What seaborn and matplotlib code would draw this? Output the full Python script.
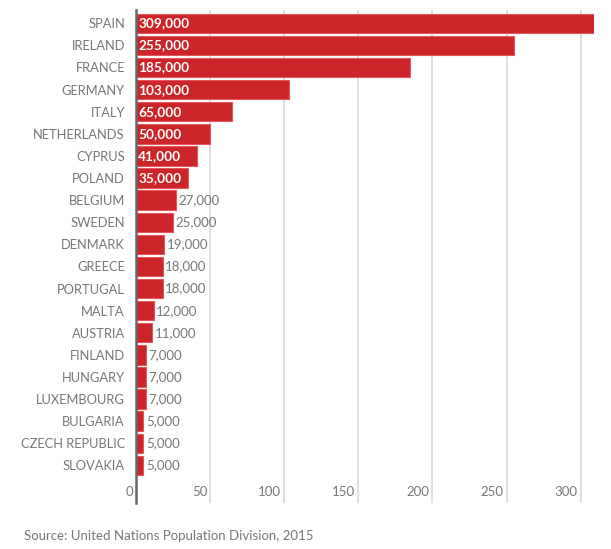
import matplotlib
matplotlib.use("Agg")
import matplotlib.pyplot as plt
import matplotlib.transforms as mtransforms
import seaborn as sns
import pandas as pd

# Data (values in people)
countries = ["SPAIN", "IRELAND", "FRANCE", "GERMANY", "ITALY", "NETHERLANDS",
             "CYPRUS", "POLAND", "BELGIUM", "SWEDEN", "DENMARK", "GREECE",
             "PORTUGAL", "MALTA", "AUSTRIA", "FINLAND", "HUNGARY", "LUXEMBOURG",
             "BULGARIA", "CZECH REPUBLIC", "SLOVAKIA"]
values = [309000, 255000, 185000, 103000, 65000, 50000, 41000, 35000, 27000,
          25000, 19000, 18000, 18000, 12000, 11000, 7000, 7000, 7000, 5000,
          5000, 5000]
x_ticks = [0, 50, 100, 150, 200, 250, 300]
source_text = "Source: United Nations Population Division, 2015"

df = pd.DataFrame({"country": countries, "thousands": [v / 1000 for v in values]})

sns.set_style("white")
plt.rcParams["font.family"] = ["Lato", "DejaVu Sans"]

bar_color = "#cc2529"
grey = "#777777"

fig = plt.figure(figsize=(6.11, 5.49), dpi=100)
ax = fig.add_axes([136 / 611, 46 / 549, (594 - 136) / 611, (539 - 46) / 549])

sns.barplot(data=df, y="country", x="thousands", color=bar_color,
            saturation=1, width=0.88, edgecolor="#e2585c", linewidth=0.8,
            orient="h", ax=ax)

ax.set_xlim(0, 309)
ax.set_ylim(len(countries) + 0.7, -0.6)

# vertical gridlines
for t in x_ticks[1:]:
    ax.axvline(t, color="#d9d9d9", lw=1.2, zorder=0)

# value labels
for i, v in enumerate(values):
    k = v / 1000
    label = f"{v:,}"
    if v >= 35000:
        ax.text(1.5, i, label, va="center", ha="left", color="white",
                fontsize=9.8, fontweight="bold")
    else:
        ax.text(k + 1.6, i, label, va="center", ha="left", color=grey,
                fontsize=9.5)

# x tick labels placed inside the plot, right-aligned to the gridlines
trans = mtransforms.blended_transform_factory(ax.transData, ax.transAxes)
for t in x_ticks:
    ax.text(t - 2, 0.01, str(t), ha="right", va="bottom", color=grey,
            fontsize=9.5, transform=trans)

ax.set_xticks([])
ax.tick_params(axis="y", length=0, pad=8, labelsize=9.3, labelcolor=grey)
ax.set_xlabel("")
ax.set_ylabel("")
for s in ["top", "right", "bottom"]:
    ax.spines[s].set_visible(False)
ax.spines["left"].set_color("#666666")
ax.spines["left"].set_linewidth(1.8)
ax.spines["left"].set_zorder(5)

fig.text(24 / 611, 1 - 536 / 549, source_text, ha="left", va="center",
         color=grey, fontsize=9.5)

fig.savefig("out.png", dpi=100)
